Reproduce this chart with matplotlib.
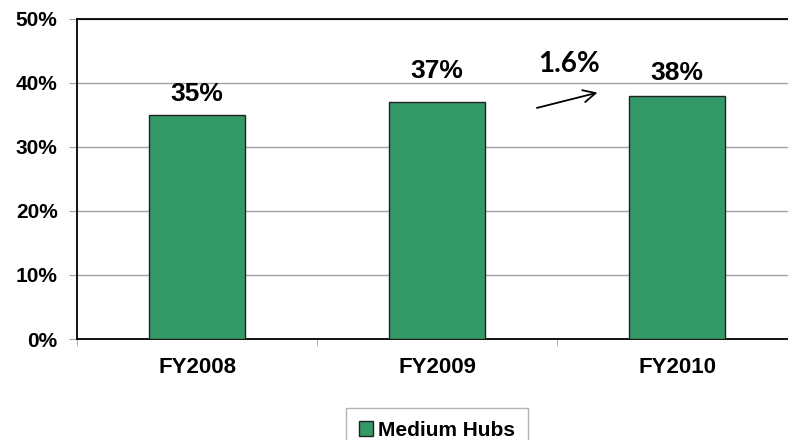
import matplotlib
matplotlib.use("Agg")
import matplotlib.pyplot as plt
from matplotlib.patches import Patch

categories = ["FY2008", "FY2009", "FY2010"]
values = [35, 37, 38]
value_labels = ["35%", "37%", "38%"]
series_name = "Medium Hubs"
growth_label = "1.6%"
yticks = [0, 10, 20, 30, 40, 50]

# label placement (style, points above bar top)
label_offsets = [6.5, 13.5, 8]

plt.rcParams['font.family'] = ['Liberation Sans', 'DejaVu Sans']

fig = plt.figure(figsize=(7.88, 4.4), dpi=100)
ax = fig.add_axes([77/788, 101/440, 720/788, 320/440])

x = range(len(categories))
bars = ax.bar(x, values, width=0.4, color="#339966", edgecolor="#222222", linewidth=1.0, zorder=3)

ax.set_xlim(-0.5, 2.5)
ax.set_ylim(0, 50)
ax.set_yticks(yticks)
ax.set_yticklabels([f"{v}%" for v in yticks], fontsize=15, fontweight='bold')
ax.yaxis.grid(True, color="#a0a0a0", linewidth=1.0, zorder=0)
ax.tick_params(axis='y', length=6, color="#a0a0a0", pad=8)

ax.set_xticks([0, 1, 2])
ax.set_xticklabels(categories, fontsize=16, fontweight='bold')
ax.tick_params(axis='x', length=0, pad=13)
ax.set_xticks([-0.5, 0.5, 1.5], minor=True)
ax.tick_params(axis='x', which='minor', length=5, color="#a0a0a0")

for s in ['left', 'bottom', 'top']:
    ax.spines[s].set_color('black')
    ax.spines[s].set_linewidth(1.3)
ax.spines['right'].set_visible(False)

for xi, v, lab, off in zip(x, values, value_labels, label_offsets):
    ax.annotate(lab, (xi, v), xytext=(0, off), textcoords='offset points',
                ha='center', va='bottom', fontsize=19, fontweight='bold')

# growth arrow between FY2009 and FY2010
ax.annotate("", xy=(1.68, 38.6), xytext=(1.405, 36.0),
            arrowprops=dict(arrowstyle='->', color='black', lw=1.3, mutation_scale=22))
ax.text(1.55, 41.0, growth_label, ha='center', va='bottom', fontsize=20,
        fontweight='bold', family=['Lato', 'DejaVu Sans'])

leg = fig.legend(handles=[Patch(facecolor="#339966", edgecolor="#222222", label=series_name)],
                 loc='center', bbox_to_anchor=(437/788, 10/440), frameon=True,
                 fancybox=False, prop={'weight': 'bold', 'size': 15},
                 handlelength=0.7, handleheight=0.7, handletextpad=0.25,
                 borderpad=0.6, borderaxespad=0)
leg.get_frame().set_edgecolor("#a0a0a0")
leg.get_frame().set_linewidth(1.0)

fig.savefig("out.png", dpi=100)
